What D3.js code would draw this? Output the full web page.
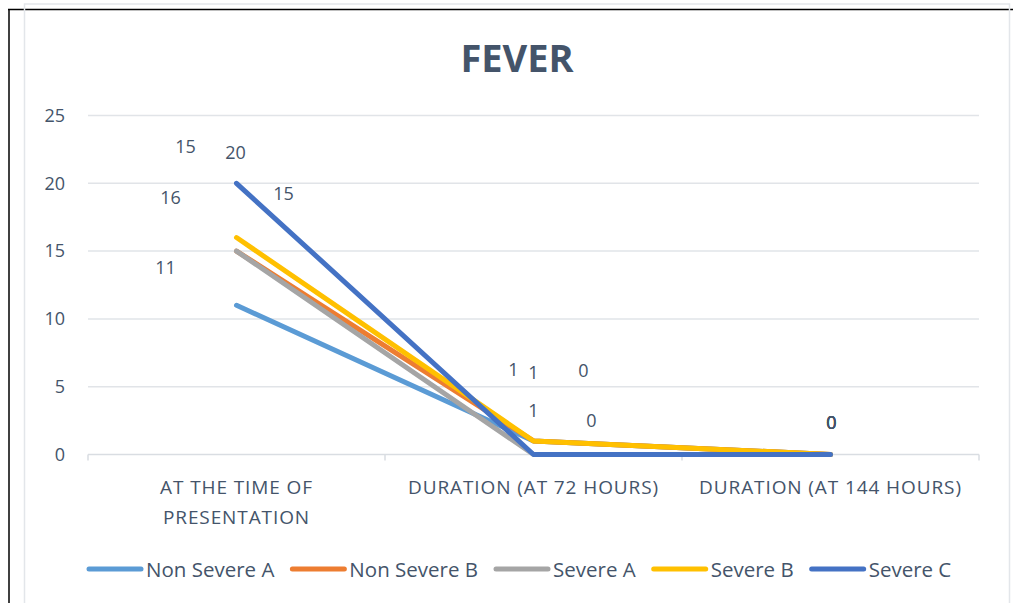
<!DOCTYPE html>
<html lang="en">
<head>
<meta charset="UTF-8">
<title>Fever</title>
<script src="https://d3js.org/d3.v7.min.js"></script>
<style>
  body { margin: 0; background: #fff; }
  text { font-family: "Open Sans", sans-serif; fill: #44546A; }
</style>
</head>
<body>
<div id="chart"></div>
<script>
// data
const categories = [["AT THE TIME OF", "PRESENTATION"], ["DURATION (AT 72 HOURS)"], ["DURATION (AT 144 HOURS)"]];
const seriesNames = ["Non Severe A", "Non Severe B", "Severe A", "Severe B", "Severe C"];
const nonSevereA = [11, 1, 0];
const nonSevereB = [15, 1, 0];
const severeA = [15, 0, 0];
const severeB = [16, 1, 0];
const severeC = [20, 0, 0];
const yTicks = [0, 5, 10, 15, 20, 25];
const colors = ["#5B9BD5", "#ED7D31", "#A5A5A5", "#FFC000", "#4472C4"];

// label nudges (the data labels were moved by hand in the original)
const labelNudge = [
  [[-71, -38], [-20, -72], [1, -33]],
  [[-51, -105], [0, -69], [1, -33]],
  [[47, -58], [50, -85], [1, -33]],
  [[-66, -41], [0, -31], [1, -33]],
  [[-1, -31], [58, -35], [1, -33]]
];

const allSeries = [nonSevereA, nonSevereB, severeA, severeB, severeC];

const w = 1013, h = 603;
const svg = d3.select("#chart").append("svg").attr("width", w).attr("height", h);

// frame
svg.append("line").attr("x1", 8).attr("x2", w).attr("y1", 9.5).attr("y2", 9.5).attr("stroke", "#000").attr("stroke-width", 1.5);
svg.append("line").attr("x1", 9).attr("x2", 9).attr("y1", 9).attr("y2", h).attr("stroke", "#000").attr("stroke-width", 1.5);
svg.append("rect").attr("x", 24.5).attr("y", 4).attr("width", 985).attr("height", 640)
  .attr("fill", "none").attr("stroke", "#E3E6EA").attr("stroke-width", 1.5);

const x = d3.scaleBand().domain(d3.range(categories.length)).range([88, 979]);
const y = d3.scaleLinear().domain([0, 25]).range([454.5, 115.5]);

// title
svg.append("text").attr("x", 517).attr("y", 72).attr("text-anchor", "middle")
  .style("font-size", "38px").style("font-weight", "bold").text("FEVER");

// gridlines
svg.append("g").selectAll("line").data(yTicks.filter(d => d > 0)).enter().append("line")
  .attr("x1", 88).attr("x2", 979)
  .attr("y1", d => y(d)).attr("y2", d => y(d))
  .attr("stroke", "#E1E4E8").attr("stroke-width", 1.5);

// y axis labels
const yAxis = d3.axisLeft(y).tickValues(yTicks).tickSize(0).tickPadding(23);
const gy = svg.append("g").attr("transform", "translate(88,0)").call(yAxis);
gy.select(".domain").remove();
gy.selectAll("text").style("font-size", "18px").attr("fill", "#44546A");

// x axis
const gx = svg.append("g").attr("transform", "translate(0," + y(0) + ")");
gx.append("line").attr("x1", 88).attr("x2", 979).attr("stroke", "#D9DDE2").attr("stroke-width", 1.5);
gx.selectAll("line.tick").data(d3.range(categories.length + 1)).enter().append("line")
  .attr("class", "tick")
  .attr("x1", d => 88 + d * x.bandwidth()).attr("x2", d => 88 + d * x.bandwidth())
  .attr("y1", 0).attr("y2", 6).attr("stroke", "#D9DDE2").attr("stroke-width", 1.5);
gx.selectAll("text.cat").data(categories).enter().append("text")
  .attr("class", "cat")
  .attr("x", (d, i) => x(i) + x.bandwidth() / 2)
  .attr("text-anchor", "middle")
  .style("font-size", "19px")
  .style("letter-spacing", "0.9px")
  .each(function (d) {
    const t = d3.select(this);
    d.forEach((s, k) => t.append("tspan").attr("x", t.attr("x")).attr("y", 39 + k * 30).text(s));
  });

// lines
const line = d3.line().x((d, i) => x(i) + x.bandwidth() / 2).y(d => y(d));
svg.append("g").selectAll("path").data(allSeries).enter().append("path")
  .attr("d", line)
  .attr("fill", "none")
  .attr("stroke", (d, i) => colors[i])
  .attr("stroke-width", 5)
  .attr("stroke-linecap", "round")
  .attr("stroke-linejoin", "round");

// data labels
allSeries.forEach((s, si) => {
  svg.append("g").selectAll("text").data(s).enter().append("text")
    .attr("x", (d, i) => x(i) + x.bandwidth() / 2 + labelNudge[si][i][0])
    .attr("y", (d, i) => y(d) + labelNudge[si][i][1] + 7)
    .attr("text-anchor", "middle")
    .style("font-size", "18px")
    .text(d => d);
});

// legend
const legend = svg.append("g").attr("transform", "translate(0,569)");
let lx = 87;
seriesNames.forEach((name, i) => {
  legend.append("line").attr("x1", lx + 2).attr("x2", lx + 54)
    .attr("stroke", colors[i]).attr("stroke-width", 5).attr("stroke-linecap", "round");
  const t = legend.append("text").attr("x", lx + 59).attr("y", 7.5)
    .style("font-size", "20.5px").text(name);
  lx += 59 + t.node().getComputedTextLength() + 16;
});
</script>
</body>
</html>
